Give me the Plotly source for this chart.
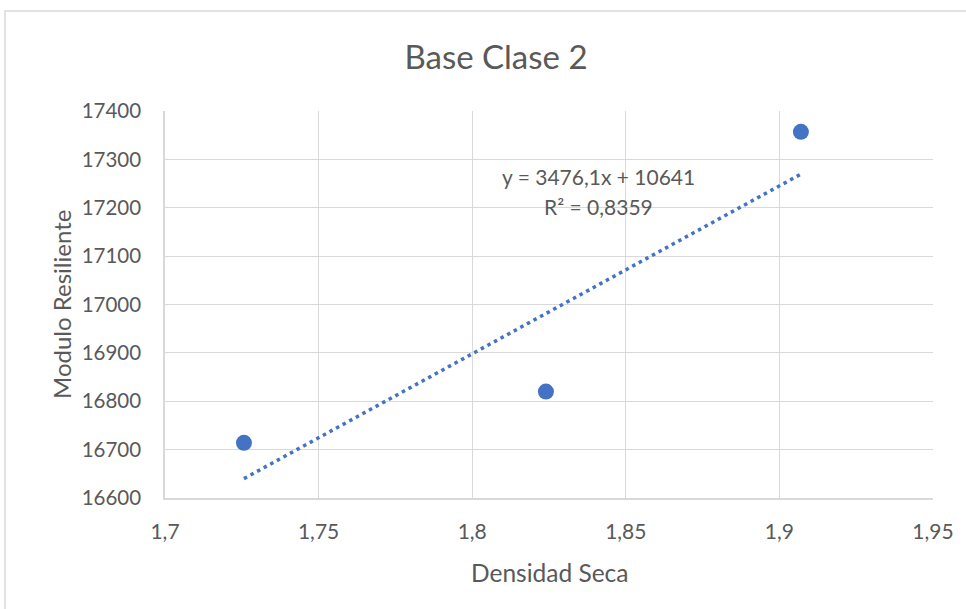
import numpy as np
import plotly.graph_objects as go

densidad = [1.7257, 1.824, 1.907]
modulo = [16714, 16820, 17357]

x_ticks = [1.7, 1.75, 1.8, 1.85, 1.9, 1.95]
x_labels = ["1,7", "1,75", "1,8", "1,85", "1,9", "1,95"]
y_ticks = [16600, 16700, 16800, 16900, 17000, 17100, 17200, 17300, 17400]
y_labels = [str(v) for v in y_ticks]

title = "Base Clase 2"
x_title = "Densidad Seca"
y_title = "Modulo Resiliente"
eq_text = "y = 3476,1x + 10641"
r2_text = "R² = 0,8359"

slope, intercept = np.polyfit(densidad, modulo, 1)
tx = [min(densidad), max(densidad)]
ty = [slope * v + intercept for v in tx]

BLUE = "#4472C4"
GRID = "#D9D9D9"
TXT = "#595959"
FONT = "Lato, 'Open Sans', sans-serif"

fig = go.Figure()
fig.add_trace(go.Scatter(x=tx, y=ty, mode="lines",
                         line=dict(color=BLUE, width=3.5, dash="3.5px,4px"),
                         hoverinfo="skip", showlegend=False))
fig.add_trace(go.Scatter(x=densidad, y=modulo, mode="markers",
                         marker=dict(color=BLUE, size=16), showlegend=False))

L, R, T, B = 165, 33, 111, 111
W, H = 966, 609
pw, ph = W - L - R, H - T - B

fig.update_layout(
    width=W, height=H,
    margin=dict(l=L, r=R, t=T, b=B, pad=0),
    paper_bgcolor="white", plot_bgcolor="white",
    font=dict(family=FONT, color=TXT, size=21),
    title=dict(text=title, x=496 / W, xref="container", xanchor="center",
               y=1 - 57 / H, yref="container", yanchor="middle",
               font=dict(size=33, color=TXT, family=FONT)),
    showlegend=False,
)
fig.update_xaxes(range=[1.7, 1.95], tickvals=x_ticks, ticktext=x_labels,
                 showgrid=True, gridcolor=GRID, gridwidth=1,
                 showline=True, linecolor=GRID, linewidth=1.5,
                 zeroline=False, ticks="outside", ticklen=14, tickcolor="rgba(0,0,0,0)",
                 tickfont=dict(size=21, color=TXT))
fig.update_yaxes(range=[16600, 17400], tickvals=y_ticks, ticktext=y_labels,
                 showgrid=True, gridcolor=GRID, gridwidth=1,
                 showline=True, linecolor=GRID, linewidth=1.5,
                 zeroline=False, ticks="outside", ticklen=18, tickcolor="rgba(0,0,0,0)",
                 tickfont=dict(size=20.5, color=TXT))

# axis titles
fig.add_annotation(x=(549 - L) / pw, y=(H - B - 572) / ph, xref="paper", yref="paper",
                   text=x_title, showarrow=False, xanchor="center", yanchor="middle",
                   font=dict(size=24.5, color=TXT, family=FONT))
fig.add_annotation(x=(61 - L) / pw, y=(H - B - 305) / ph, xref="paper", yref="paper",
                   text=y_title, showarrow=False, xanchor="center", yanchor="middle",
                   textangle=-90, font=dict(size=24, color=TXT, family=FONT))

fig.add_annotation(x=(598 - L) / pw, y=(H - B - 176) / ph, xref="paper", yref="paper",
                   text=eq_text, showarrow=False, xanchor="center", yanchor="middle",
                   font=dict(size=21, color=TXT, family=FONT))
fig.add_annotation(x=(598 - L) / pw, y=(H - B - 206) / ph, xref="paper", yref="paper",
                   text=r2_text, showarrow=False, xanchor="center", yanchor="middle",
                   font=dict(size=21, color=TXT, family=FONT))

# outer chart frame
fig.add_shape(type="rect", xref="paper", yref="paper",
              x0=(5 - L) / pw, x1=(990 - L) / pw,
              y0=(H - B - 640) / ph, y1=(H - B - 11) / ph,
              line=dict(color=GRID, width=1.5), fillcolor="rgba(0,0,0,0)", layer="below")

fig.write_html("out.html", config={"displayModeBar": False},
               post_script="document.body.style.margin='0';document.body.style.overflow='hidden';")
